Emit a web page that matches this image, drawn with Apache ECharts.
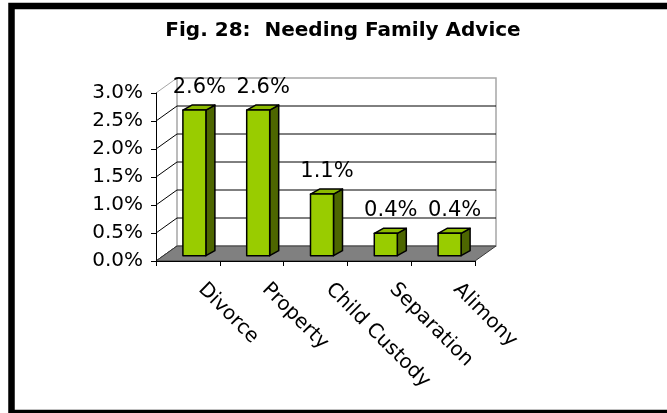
<!DOCTYPE html>
<html>
<head>
<meta charset="utf-8">
<script src="https://cdn.jsdelivr.net/npm/echarts@6/dist/echarts.min.js"></script>
<style>
  html, body { margin: 0; padding: 0; background: #fff; }
  #chart { width: 667px; height: 413px; }
</style>
</head>
<body>
<div id="chart"></div>
<script>
// ---- data ----
const categories = ['Divorce', 'Property', 'Child Custody', 'Separation', 'Alimony'];
const shares = [2.6, 2.6, 1.1, 0.4, 0.4];          // per cent of respondents
const yTicks = [0, 0.5, 1.0, 1.5, 2.0, 2.5, 3.0];  // value-axis steps
const titleText = 'Fig. 28:  Needing Family Advice';

// ---- 3-D box geometry (pixels) ----
const DEPTH_X = 21, DEPTH_Y = -15;        // back wall offset from the front axes
const BAR_W = 23;                          // width of a bar's front face
const BAR_SHIFT_X = 6.5, BAR_SHIFT_Y = -5.3; // bar sits a little inside the box
const BAR_DX = 9, BAR_DY = -5;             // bar depth
const FONT = '"DejaVu Sans", "Liberation Sans", Arial, sans-serif';

const pct = v => v.toFixed(1) + '%';

// walls and floor, placed from the value axis
function renderBox(params, api) {
  const cs = params.coordSys;
  const L = cs.x, R = cs.x + cs.width, T = cs.y, B = cs.y + cs.height;
  const wallEdge = '#a6a6a6';
  const children = [];
  children.push({
    type: 'rect',
    shape: { x: L + DEPTH_X, y: T + DEPTH_Y, width: cs.width, height: cs.height },
    style: { fill: '#fff', stroke: wallEdge, lineWidth: 1.5 }
  });
  yTicks.forEach((t, k) => {
    const y = api.coord([0, t])[1];
    const last = k === yTicks.length - 1;
    if (!last && t > 0) {
      children.push({
        type: 'line',
        shape: { x1: L + DEPTH_X, y1: y + DEPTH_Y, x2: R + DEPTH_X, y2: y + DEPTH_Y },
        style: { stroke: '#000', lineWidth: 1 }
      });
    }
    children.push({
      type: 'line',
      shape: { x1: L, y1: y, x2: L + DEPTH_X, y2: y + DEPTH_Y },
      style: { stroke: last ? wallEdge : '#000', lineWidth: 1 }
    });
  });
  children.push({
    type: 'polygon',
    shape: { points: [[L, B], [R, B], [R + DEPTH_X, B + DEPTH_Y], [L + DEPTH_X, B + DEPTH_Y]] },
    style: { fill: '#808080', stroke: '#3a3a3a', lineWidth: 1 }
  });
  return { type: 'group', children };
}

// one 3-D bar with its value label
function renderBar(params, api) {
  const i = api.value(0), v = api.value(1);
  const p0 = api.coord([i, 0]), p1 = api.coord([i, v]);
  const xl = p0[0] + BAR_SHIFT_X - BAR_W / 2, xr = xl + BAR_W;
  const yb = p0[1] + BAR_SHIFT_Y, yt = p1[1] + BAR_SHIFT_Y;
  const edge = { stroke: '#000', lineWidth: 1.5, lineJoin: 'round' };
  return {
    type: 'group',
    children: [
      { type: 'polygon',
        shape: { points: [[xr, yb], [xr + BAR_DX, yb + BAR_DY], [xr + BAR_DX, yt + BAR_DY], [xr, yt]] },
        style: Object.assign({ fill: '#4d6600' }, edge) },
      { type: 'polygon',
        shape: { points: [[xl, yt], [xr, yt], [xr + BAR_DX, yt + BAR_DY], [xl + BAR_DX, yt + BAR_DY]] },
        style: Object.assign({ fill: '#8cba00' }, edge) },
      { type: 'rect',
        shape: { x: xl, y: yt, width: BAR_W, height: yb - yt },
        style: Object.assign({ fill: '#99cc00' }, edge) },
      { type: 'text',
        style: { text: pct(v), x: (xl + xr) / 2 + 5, y: yt - 23, align: 'center', verticalAlign: 'middle',
                 fontSize: 21, fontFamily: FONT, fill: '#000' } }
    ]
  };
}

const chart = echarts.init(document.getElementById('chart'));
chart.setOption({
  animation: false,
  backgroundColor: '#fff',
  graphic: [
    { type: 'rect', shape: { x: 11.5, y: 6, width: 700, height: 407 },
      style: { fill: 'none', stroke: '#000', lineWidth: 6.5 }, z: 100 },
    { type: 'text', x: 343, y: 31,
      style: { text: titleText, align: 'center', verticalAlign: 'middle',
               fontSize: 20, fontWeight: 'bold', fontFamily: FONT, fill: '#000' } }
  ],
  grid: { left: 156, right: 192, top: 93, bottom: 152, containLabel: false },
  xAxis: {
    type: 'category',
    data: categories,
    boundaryGap: true,
    z: 5,
    axisLine: { lineStyle: { color: '#000', width: 1 } },
    axisTick: { show: true, length: 5, lineStyle: { color: '#000' } },
    axisLabel: { interval: 0, rotate: -45, margin: 12, padding: [0, 0, 0, 19],
                 fontSize: 20, fontFamily: FONT, color: '#000' },
    splitLine: { show: false }
  },
  yAxis: {
    type: 'value',
    min: yTicks[0],
    max: yTicks[yTicks.length - 1],
    interval: 0.5,
    z: 5,
    axisLine: { show: true, lineStyle: { color: '#000', width: 1 } },
    axisTick: { show: true, length: 5, lineStyle: { color: '#000' } },
    axisLabel: { formatter: v => pct(v), margin: 13, fontSize: 20, fontFamily: FONT, color: '#000' },
    splitLine: { show: false }
  },
  series: [
    { type: 'custom', name: 'box', z: 1, renderItem: renderBox, data: [[0, 0]], silent: true },
    { type: 'custom', name: 'Needing family advice', z: 3, renderItem: renderBar,
      data: shares.map((v, i) => [i, v]) }
  ]
});
</script>
</body>
</html>
